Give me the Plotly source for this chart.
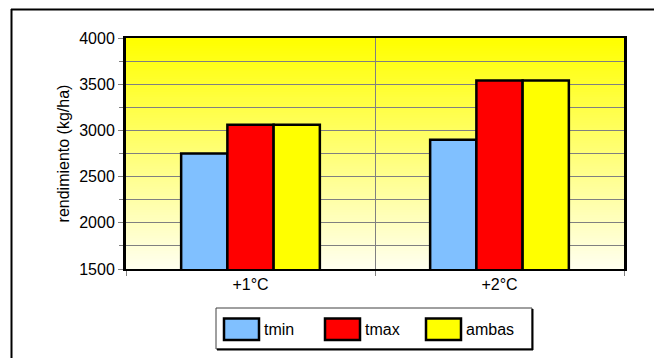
import plotly.graph_objects as go

# Scenario categories and yield per temperature treatment (kg/ha)
escenarios = ["+1°C", "+2°C"]
series_names = ["tmin", "tmax", "ambas"]
tmin = [2750, 2900]
tmax = [3060, 3540]
ambas = [3060, 3540]
y_ticks = [1500, 2000, 2500, 3000, 3500, 4000]

colors = {"tmin": "#80C0FF", "tmax": "#FF0000", "ambas": "#FFFF00"}
values = {"tmin": tmin, "tmax": tmax, "ambas": ambas}

W, H = 654, 358
L, R, T, B = 126, 30, 38, 89
PW, PH = W - L - R, H - T - B
FONT = "Liberation Sans, Arial, sans-serif"


def px(x):
    return (x - L) / PW


def py(y):
    return (H - B - y) / PH


fig = go.Figure()
for name in series_names:
    fig.add_trace(go.Bar(
        x=escenarios, y=values[name], name=name,
        marker=dict(color=colors[name], line=dict(color="black", width=2.5)),
        showlegend=False,
    ))

shapes = []
# vertical yellow-to-cream gradient behind the plot area
n = 90
for i in range(n):
    t = i / (n - 1)  # 0 at bottom, 1 at top
    b = round(238 * (1 - t))
    shapes.append(dict(
        type="rect", xref="paper", yref="paper", layer="below",
        x0=0, x1=1, y0=i / n, y1=min(1, (i + 1.6) / n),
        fillcolor=f"rgb(255,255,{b})", line=dict(width=0),
    ))

# outer chart frame (left and top edges)
shapes.append(dict(type="line", xref="paper", yref="paper",
                   x0=px(11.5), x1=px(11.5), y0=py(9), y1=py(H + 5),
                   line=dict(color="black", width=2)))
shapes.append(dict(type="line", xref="paper", yref="paper",
                   x0=px(11), x1=px(W + 5), y0=py(9.5), y1=py(9.5),
                   line=dict(color="black", width=2)))

# legend box with drop shadow
shapes.append(dict(type="rect", xref="paper", yref="paper",
                   x0=px(216), x1=px(532), y0=py(308), y1=py(349),
                   fillcolor="white", line=dict(color="#404040", width=1)))
shapes.append(dict(type="line", xref="paper", yref="paper",
                   x0=px(217), x1=px(533), y0=py(349.5), y1=py(349.5),
                   line=dict(color="black", width=2)))
shapes.append(dict(type="line", xref="paper", yref="paper",
                   x0=px(532.5), x1=px(532.5), y0=py(309), y1=py(350),
                   line=dict(color="black", width=2)))

annotations = []
swatch_x = {"tmin": 224, "tmax": 325, "ambas": 426}
for name in series_names:
    x0 = swatch_x[name]
    shapes.append(dict(type="rect", xref="paper", yref="paper",
                       x0=px(x0), x1=px(x0 + 35), y0=py(318.5), y1=py(340),
                       fillcolor=colors[name], line=dict(color="black", width=2.5)))
    annotations.append(dict(xref="paper", yref="paper", x=px(x0 + 38), y=py(329),
                            text=name, showarrow=False, xanchor="left", yanchor="middle",
                            font=dict(family=FONT, size=16, color="black")))

fig.update_layout(
    width=W, height=H,
    margin=dict(l=L, r=R, t=T, b=B, pad=0),
    paper_bgcolor="white", plot_bgcolor="rgba(0,0,0,0)",
    barmode="group", bargap=0.443, bargroupgap=0,
    font=dict(family=FONT, size=16, color="black"),
    shapes=shapes, annotations=annotations,
    showlegend=False,
    xaxis=dict(
        type="category", tickson="boundaries", ticks="outside", ticklen=5,
        tickcolor="#808080", showgrid=True, gridcolor="#808080", gridwidth=1,
        showline=True, linecolor="black", linewidth=2, mirror=True,
        tickfont=dict(family=FONT, size=16), fixedrange=True,
    ),
    yaxis=dict(
        range=[1500, 4000], tickvals=y_ticks, ticks="outside", ticklen=5,
        tickcolor="#808080", showgrid=True, gridcolor="#808080", gridwidth=1,
        minor=dict(dtick=250, showgrid=True, gridcolor="#808080", gridwidth=1,
                   ticks="outside", ticklen=4, tickcolor="#808080"),
        showline=True, linecolor="black", linewidth=3, mirror=True,
        zeroline=False, tickfont=dict(family=FONT, size=16),
        title=dict(text="rendimiento (kg/ha)", font=dict(family=FONT, size=16), standoff=6),
        fixedrange=True,
    ),
)

fig.write_html("out.html", config={"displayModeBar": False})
